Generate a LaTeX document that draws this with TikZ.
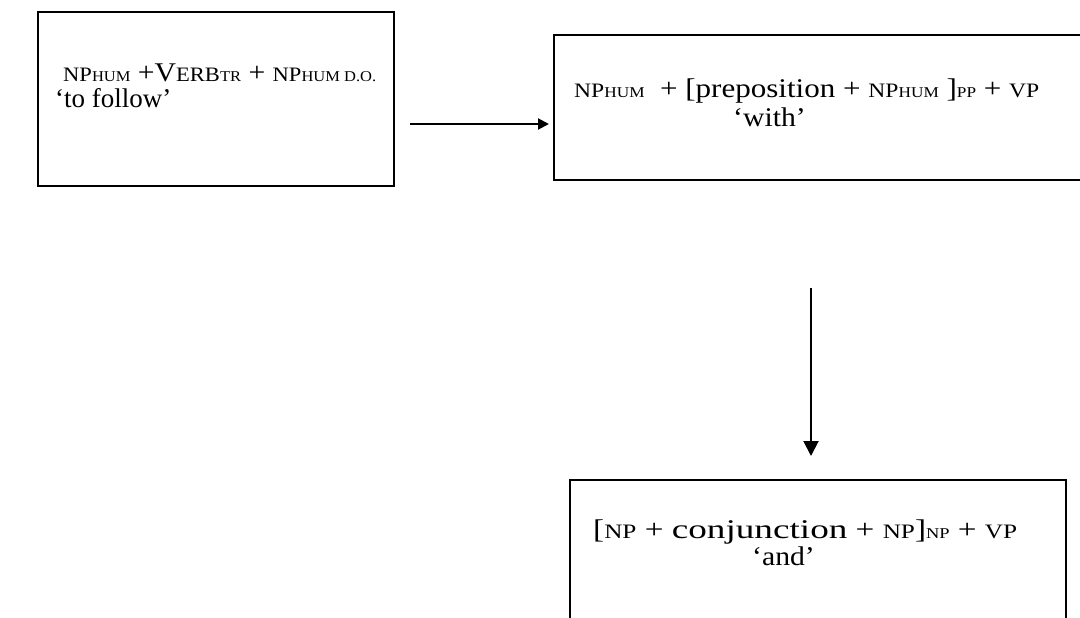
\documentclass[tikz,border=0pt]{standalone}
\usepackage{fontspec}
\setmainfont{Liberation Serif}
\usetikzlibrary{arrows.meta}
\newcommand\fsmain{\fontsize{27}{32}\selectfont}
\newcommand\fsnp{\fontsize{20.5}{25}\selectfont}
\newcommand\fssm{\fontsize{15}{18}\selectfont}
\begin{document}
\begin{tikzpicture}[x=1pt,y=-1pt,
  box/.style={draw=black,line width=1.8pt,fill=none,inner sep=0pt},
  txt/.style={anchor=base west,inner sep=0pt,text=black,font=\fsmain},
  conn/.style={line width=2pt},
  tiph/.style={-{Triangle[length=11pt,width=11pt]}},
  tipv/.style={-{Triangle[length=15pt,width=15pt]}}]
\clip (0,0) rectangle (1080,618);
\useasboundingbox (0,0) rectangle (1080,618);
\node[box,minimum width=356pt,minimum height=174pt] (b1) at (216,99) {};
\node[box,minimum width=540pt,minimum height=145pt] (b2) at (824,107.5) {};
\node[box,minimum width=496pt,minimum height=160pt] (b3) at (818,560) {};
\node[txt] (t1a) at (63,82) {\scalebox{1.1}[1]{{\fsnp NP}{\fssm HUM}\ +V{\fsnp ERB}{\fssm TR}\ + {\fsnp NP}{\fssm HUM D.O.}}};
\node[txt] (t1b) at (55,108) {‘to follow’};
\node[txt] (t2a) at (574,98) {\scalebox{1.15}[1]{{\fsnp NP}{\fssm HUM}\ \ + [preposition + {\fsnp NP}{\fssm HUM}\ ]{\fssm PP}\ + {\fsnp VP}}};
\node[txt] (t2b) at (733,127) {\scalebox{1.1}[1]{‘with’}};
\node[txt] (t3a) at (593,538) {\scalebox{1.23}[1]{[{\fsnp NP} + \scalebox{1.12}[1]{conjunction} + {\fsnp NP}]{\fssm NP}\ + {\fsnp VP}}};
\node[txt] (t3b) at (752,565) {\scalebox{1.1}[1]{‘and’}};
\coordinate (a1s) at (410,124);
\coordinate (a1e) at (549,124);
\coordinate (a2s) at (811,288);
\coordinate (a2e) at (811,456);
\draw[conn,tiph] (a1s) -- (a1e);
\draw[conn,tipv] (a2s) -- (a2e);
\end{tikzpicture}
\end{document}
